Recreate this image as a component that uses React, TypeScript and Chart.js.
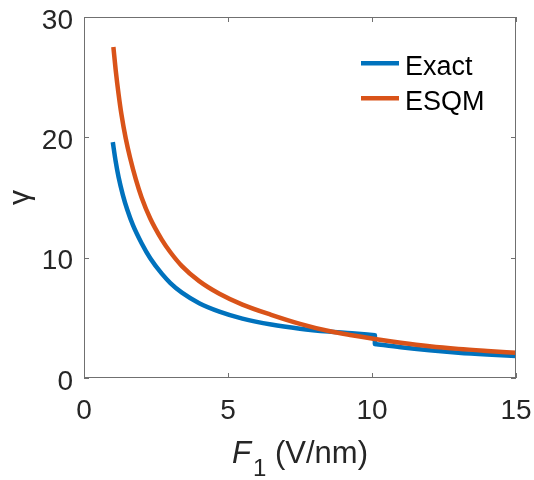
import React, { useEffect, useRef } from "react";
import { Chart, registerables } from "chart.js";

Chart.register(...registerables);

// ---- data ----
const exactX1 = [1.0, 1.1, 1.2, 1.35, 1.5, 1.7, 2.0, 2.3, 2.7, 3.0, 3.4, 4.0, 4.7, 5.5, 6.5, 7.5, 8.5, 9.3, 10.1];
const exactY1 = [19.6, 18.0, 16.7, 15.2, 14.0, 12.7, 11.2, 9.95, 8.67, 7.89, 7.09, 6.22, 5.52, 4.94, 4.44, 4.1, 3.86, 3.72, 3.55];
const exactX2 = [10.1, 11, 12, 13, 14, 15];
const exactY2 = [2.83, 2.55, 2.3, 2.1, 1.95, 1.83];
const esqmX = [1.02, 1.1, 1.2, 1.3, 1.45, 1.6, 1.8, 2.0, 2.3, 2.7, 3.0, 3.4, 4.0, 4.7, 5.5, 6.5, 7.5, 8.5, 9.3, 10.1, 11, 12, 13, 14, 15];
const esqmY = [27.5, 25.6, 23.6, 21.9, 19.9, 18.3, 16.5, 15.0, 13.25, 11.5, 10.45, 9.3, 8.05, 7.0, 6.1, 5.25, 4.5, 3.9, 3.55, 3.24, 2.93, 2.64, 2.42, 2.25, 2.1];
const xTicks = [0, 5, 10, 15];
const yTicks = [0, 10, 20, 30];
const seriesNames = ["Exact", "ESQM"];
const seriesColors = ["#0072BD", "#D95319"];

const FONT = '"Liberation Sans", Arial, sans-serif';
const AXIS_COLOR = "#262626";
const BOX_COLOR = "#707070";
const LW = 4.5;

const toPts = (xs: number[], ys: number[]) => xs.map((x, i) => ({ x, y: ys[i] }));

const decorPlugin = {
  id: "decor",
  afterDraw(chart: any) {
    const { ctx, chartArea: a, scales } = chart;
    const xs = scales.x;
    const ys = scales.y;
    ctx.save();
    // box
    ctx.strokeStyle = BOX_COLOR;
    ctx.lineWidth = 1;
    ctx.strokeRect(Math.round(a.left) + 0.5, Math.round(a.top) + 0.5, Math.round(a.right - a.left) - 1, Math.round(a.bottom - a.top) - 1);
    // inward ticks (mirrored)
    const tl = 5;
    ctx.beginPath();
    xTicks.forEach((v) => {
      const px = Math.round(xs.getPixelForValue(v)) + 0.5;
      ctx.moveTo(px, a.bottom);
      ctx.lineTo(px, a.bottom - tl);
      ctx.moveTo(px, a.top);
      ctx.lineTo(px, a.top + tl);
    });
    yTicks.forEach((v) => {
      const py = Math.round(ys.getPixelForValue(v)) + 0.5;
      ctx.moveTo(a.left, py);
      ctx.lineTo(a.left + tl, py);
      ctx.moveTo(a.right, py);
      ctx.lineTo(a.right - tl, py);
    });
    ctx.stroke();

    // tick labels
    ctx.fillStyle = AXIS_COLOR;
    ctx.font = `28px ${FONT}`;
    ctx.textBaseline = "alphabetic";
    ctx.textAlign = "center";
    xTicks.forEach((v) => {
      ctx.fillText(String(v), xs.getPixelForValue(v), a.bottom + 41);
    });
    ctx.textAlign = "right";
    yTicks.forEach((v) => {
      ctx.fillText(String(v), a.left - 11, ys.getPixelForValue(v) + 11.5);
    });

    // x axis title: F_1 (V/nm)
    ctx.textAlign = "left";
    const cx = (a.left + a.right) / 2;
    const base = a.bottom + 85;
    ctx.font = `italic 31px ${FONT}`;
    const wF = ctx.measureText("F").width;
    ctx.font = `24px ${FONT}`;
    const w1 = ctx.measureText("1").width;
    ctx.font = `31px ${FONT}`;
    const wRest = ctx.measureText(" (V/nm)").width;
    const total = wF + 2 + w1 + wRest;
    let x0 = cx - total / 2;
    ctx.font = `italic 31px ${FONT}`;
    ctx.fillText("F", x0, base);
    x0 += wF + 2;
    ctx.font = `24px ${FONT}`;
    ctx.fillText("1", x0, base + 13);
    x0 += w1;
    ctx.font = `31px ${FONT}`;
    ctx.fillText(" (V/nm)", x0, base);

    // y axis title: gamma
    ctx.save();
    ctx.translate(29, (a.top + a.bottom) / 2);
    ctx.rotate(-Math.PI / 2);
    ctx.textAlign = "center";
    ctx.font = `30px ${FONT}`;
    ctx.fillText("\u03B3", 0, 0);
    ctx.restore();

    // legend
    const lx0 = 361;
    const lx1 = 399;
    const rows = [63.3, 98.3];
    ctx.font = `27px ${FONT}`;
    ctx.textAlign = "left";
    ctx.textBaseline = "alphabetic";
    seriesNames.forEach((name, i) => {
      ctx.strokeStyle = seriesColors[i];
      ctx.lineWidth = LW;
      ctx.beginPath();
      ctx.moveTo(lx0, rows[i]);
      ctx.lineTo(lx1, rows[i]);
      ctx.stroke();
      ctx.fillStyle = "#000000";
      ctx.fillText(name, 405, rows[i] + 11.5);
    });
    ctx.restore();
  },
};

export default function App() {
  const ref = useRef<HTMLCanvasElement | null>(null);
  useEffect(() => {
    if (!ref.current) return;
    const common = {
      fill: false,
      pointRadius: 0,
      borderWidth: LW,
      showLine: true,
    };
    const chart = new Chart(ref.current, {
      type: "scatter",
      data: {
        datasets: [
          { ...common, label: seriesNames[0], data: toPts(exactX1, exactY1), borderColor: seriesColors[0], cubicInterpolationMode: "monotone", order: 1 },
          { ...common, label: seriesNames[0] + "_jump", data: toPts([exactX1[exactX1.length - 1], exactX2[0]], [exactY1[exactY1.length - 1], exactY2[0]]), borderColor: seriesColors[0], tension: 0, order: 1 },
          { ...common, label: seriesNames[0] + "_2", data: toPts(exactX2, exactY2), borderColor: seriesColors[0], cubicInterpolationMode: "monotone", order: 1 },
          { ...common, label: seriesNames[1], data: toPts(esqmX, esqmY), borderColor: seriesColors[1], cubicInterpolationMode: "monotone", order: 0 },
        ],
      } as any,
      options: {
        responsive: false,
        animation: false,
        devicePixelRatio: 1,
        layout: { padding: { top: 17, right: 18, left: 0, bottom: 0 } },
        plugins: { legend: { display: false }, tooltip: { enabled: false }, title: { display: false } },
        elements: { line: { borderCapStyle: "butt", borderJoinStyle: "round" } },
        scales: {
          x: {
            type: "linear",
            min: 0,
            max: 15,
            afterBuildTicks: (s: any) => {
              s.ticks = xTicks.map((v) => ({ value: v }));
            },
            afterFit: (s: any) => {
              s.height = 102;
            },
            ticks: { display: false },
            grid: { display: false },
            border: { display: false },
          },
          y: {
            type: "linear",
            min: 0,
            max: 30,
            afterBuildTicks: (s: any) => {
              s.ticks = yTicks.map((v) => ({ value: v }));
            },
            afterFit: (s: any) => {
              s.width = 84;
            },
            ticks: { display: false },
            grid: { display: false },
            border: { display: false },
          },
        },
      } as any,
      plugins: [decorPlugin],
    });
    return () => chart.destroy();
  }, []);
  return (
    <div style={{ position: "fixed", left: 0, top: 0, width: 534, height: 480, background: "#fff" }}>
      <canvas ref={ref} width={534} height={480} />
    </div>
  );
}
